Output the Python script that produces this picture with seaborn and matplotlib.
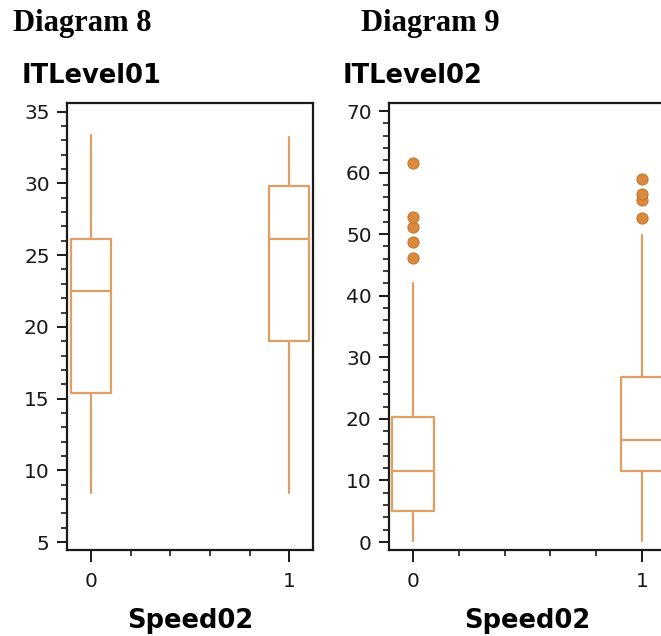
import matplotlib
matplotlib.use('Agg')
import matplotlib.pyplot as plt
import seaborn as sns
from matplotlib.ticker import MultipleLocator

sns.set_style("ticks")
plt.rcParams['font.family'] = ['DejaVu Sans']

# 数据：箱线图统计量
groups = ['0', '1']
positions = [0, 1]

# 图8 ITLevel01
lvl1_whislo = [8.4, 8.4]
lvl1_q1 = [15.4, 19.0]
lvl1_med = [22.5, 26.1]
lvl1_q3 = [26.1, 29.8]
lvl1_whishi = [33.4, 33.2]
lvl1_fliers = [[], []]

# 图9 ITLevel02
lvl2_whislo = [0.2, 0.2]
lvl2_q1 = [5.1, 11.6]
lvl2_med = [11.6, 16.6]
lvl2_q3 = [20.3, 26.8]
lvl2_whishi = [42.0, 49.9]
lvl2_fliers = [[46.1, 48.8, 51.2, 52.8, 61.6], [52.6, 55.5, 56.6, 58.9]]

line_color = '#E09E64'
dot_color = '#D98A3E'


def make_stats(whislo, q1, med, q3, whishi, fliers):
    return [dict(label=g, whislo=a, q1=b, med=c, q3=d, whishi=e, fliers=f)
            for g, a, b, c, d, e, f in zip(groups, whislo, q1, med, q3, whishi, fliers)]


def draw_panel(ax, stats, width, xlim, ylim, major, minor, title, title_x):
    lp = dict(color=line_color, linewidth=1.6)
    ax.bxp(stats, positions=positions, widths=width, showcaps=False,
           boxprops=lp, whiskerprops=lp, medianprops=lp, capprops=lp,
           flierprops=dict(marker='o', markersize=8, markerfacecolor=dot_color,
                           markeredgecolor='#C87A30', markeredgewidth=0.8))
    ax.set_xlim(*xlim)
    ax.set_ylim(*ylim)
    ax.yaxis.set_major_locator(MultipleLocator(major))
    ax.yaxis.set_minor_locator(MultipleLocator(minor))
    ax.set_xticks(positions)
    ax.set_xticklabels(groups)
    ax.set_xticks([0.2, 0.4, 0.6, 0.8], minor=True)
    ax.tick_params(axis='y', which='major', length=7.5, width=1.4, labelsize=14.5,
                   direction='out', colors='#1a1a1a', pad=5)
    ax.tick_params(axis='x', which='major', length=8.5, width=1.4, labelsize=14.5,
                   direction='out', colors='#1a1a1a', pad=7)
    ax.tick_params(axis='both', which='minor', length=4, width=1.2, direction='out',
                   colors='#1a1a1a')
    for s in ax.spines.values():
        s.set_visible(True)
        s.set_linewidth(1.6)
        s.set_color('#1a1a1a')
    ax.set_xlabel('')
    ax.set_ylabel('')
    ax.text(0.5, -0.1745, 'Speed02', transform=ax.transAxes, fontsize=18.5,
            fontweight='bold', ha='center', va='baseline', color='black')
    ax.text(title_x, 1.045, title, transform=ax.transAxes, fontsize=18.5,
            fontweight='bold', ha='left', va='baseline', color='black')


fig = plt.figure(figsize=(6.61, 6.36), dpi=100)
ax1 = fig.add_axes([0.1014, 0.1352, 0.3722, 0.7028])
ax2 = fig.add_axes([0.5885, 0.1352, 0.4190, 0.7028])

draw_panel(ax1, make_stats(lvl1_whislo, lvl1_q1, lvl1_med, lvl1_q3, lvl1_whishi, lvl1_fliers),
           0.2, (-0.12, 1.12), (4.45, 35.6), 5, 1, 'ITLevel01', -0.183)
draw_panel(ax2, make_stats(lvl2_whislo, lvl2_q1, lvl2_med, lvl2_q3, lvl2_whishi, lvl2_fliers),
           0.18, (-0.105, 1.105), (-1.3, 71.3), 10, 2, 'ITLevel02', -0.166)

fig.text(13 / 661, 1 - 31 / 636, 'Diagram 8', fontsize=22, fontweight='bold',
         family='Liberation Serif', ha='left', va='baseline', color='black')
fig.text(361 / 661, 1 - 31 / 636, 'Diagram 9', fontsize=22, fontweight='bold',
         family='Liberation Serif', ha='left', va='baseline', color='black')

plt.savefig('out.png', dpi=100)
plt.close()
